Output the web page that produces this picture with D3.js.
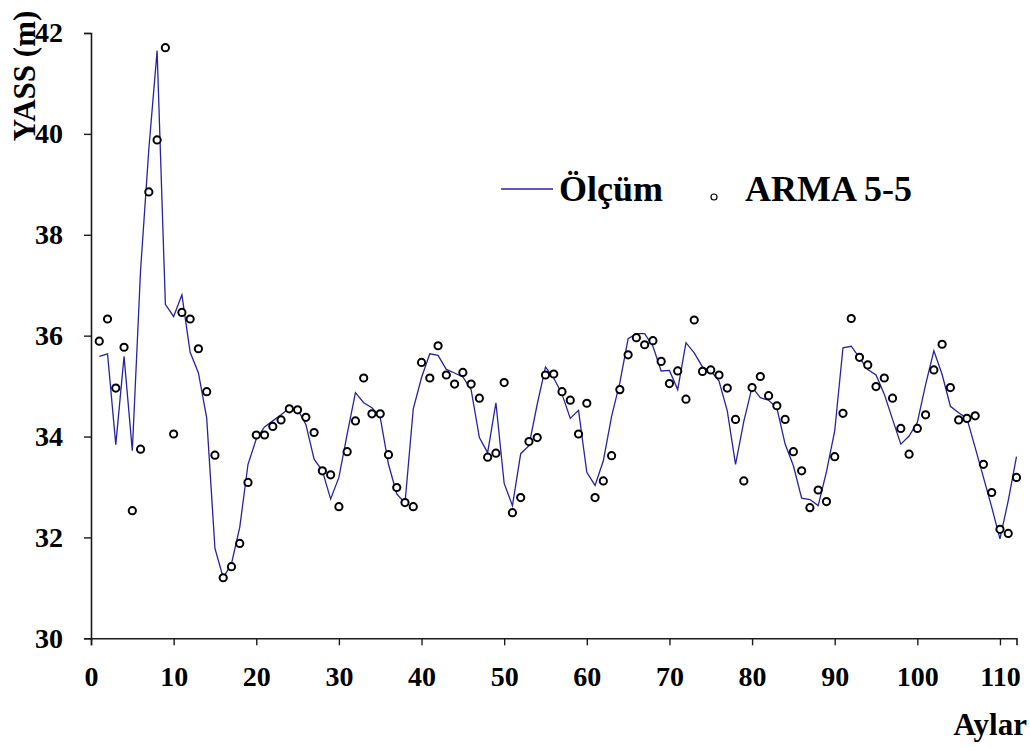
<!DOCTYPE html>
<html>
<head>
<meta charset="utf-8">
<script src="https://cdn.jsdelivr.net/npm/d3@7"></script>
<style>
  html, body { margin: 0; padding: 0; background: #fff; }
  svg { display: block; }
  text { font-family: "Liberation Serif", "Times New Roman", serif; font-weight: bold; fill: #000; }
</style>
</head>
<body>
<svg id="chart" width="1030" height="747"></svg>
<script>
// Monthly groundwater level (YASS, m): measured series and ARMA(5,5) model output
const months = d3.range(1, 113);

const olcum = [
  35.59, 35.64, 33.84, 35.59, 33.72, 37.30, 39.70, 41.65, 36.62, 36.38,
  36.81, 35.67, 35.26, 34.37, 31.78, 31.20, 31.48, 32.20, 33.45, 33.95,
  34.19, 34.31, 34.43, 34.56, 34.54, 34.24, 33.55, 33.32, 32.76, 33.19,
  34.05, 34.87, 34.67, 34.57, 34.38, 33.45, 32.86, 32.68, 34.55, 35.17,
  35.64, 35.61, 35.33, 35.26, 35.18, 34.93, 33.98, 33.68, 34.67, 33.07,
  32.63, 33.66, 33.82, 34.64, 35.38, 35.16, 34.84, 34.36, 34.52, 33.29,
  33.03, 33.52, 34.40, 35.07, 35.94, 36.04, 36.04, 35.79, 35.30, 35.31,
  34.93, 35.86, 35.66, 35.38, 35.30, 35.10, 34.51, 33.45, 34.30, 34.98,
  34.77, 34.72, 34.57, 33.85, 33.42, 32.78, 32.75, 32.63, 33.30, 34.11,
  35.76, 35.79, 35.56, 35.33, 35.22, 34.84, 34.34, 33.85, 34.01, 34.28,
  35.03, 35.70, 35.23, 34.60, 34.47, 34.36, 33.78, 33.19, 32.60, 31.97,
  32.73, 33.60
];

const arma55 = [
  35.89, 36.33, 34.96, 35.77, 32.53, 33.75, 38.85, 39.88, 41.71, 34.05,
  36.46, 36.33, 35.74, 34.89, 33.63, 31.20, 31.42, 31.88, 33.09, 34.03,
  34.03, 34.20, 34.33, 34.55, 34.53, 34.38, 34.08, 33.32, 33.24, 32.61,
  33.70, 34.31, 35.16, 34.45, 34.45, 33.64, 32.99, 32.69, 32.61, 35.47,
  35.16, 35.80, 35.22, 35.04, 35.27, 35.04, 34.76, 33.59, 33.67, 35.07,
  32.49, 32.79, 33.90, 33.98, 35.22, 35.24, 34.89, 34.72, 34.05, 34.66,
  32.79, 33.12, 33.62, 34.93, 35.62, 35.96, 35.82, 35.90, 35.49, 35.05,
  35.30, 34.74, 36.31, 35.29, 35.32, 35.22, 34.96, 34.34, 33.12, 34.97,
  35.19, 34.81, 34.61, 34.34, 33.70, 33.32, 32.59, 32.94, 32.71, 33.60,
  34.46, 36.34, 35.57, 35.42, 34.99, 35.16, 34.76, 34.16, 33.65, 34.16,
  34.43, 35.32, 35.83, 34.97, 34.33, 34.36, 34.41, 33.45, 32.89, 32.16,
  32.08, 33.19
];

const xTicks = [0, 10, 20, 30, 40, 50, 60, 70, 80, 90, 100, 110];
const yTicks = [30, 32, 34, 36, 38, 40, 42];
const seriesNames = ["Ölçüm", "ARMA 5-5"];
const xTitle = "Aylar";
const yTitle = "YASS (m)";

const svg = d3.select("#chart");

const x = d3.scaleLinear().domain([0, 112]).range([91, 1016.5]);
const y = d3.scaleLinear().domain([30, 42]).range([638.3, 33]);

const lineColor = "#2424a0";
const axisColor = "#1a1a1a";

function styleAxis(g) {
  g.select(".domain").attr("stroke", axisColor).attr("stroke-width", 1.6);
  g.selectAll(".tick line").attr("stroke", axisColor).attr("stroke-width", 1.4);
  g.selectAll(".tick text")
    .attr("font-family", "Liberation Serif, Times New Roman, serif")
    .attr("font-weight", "bold")
    .attr("font-size", 28)
    .attr("fill", "#000");
}

// x axis
svg.append("g")
  .attr("transform", `translate(0,${y(30)})`)
  .call(d3.axisBottom(x).tickValues(xTicks).tickSize(7).tickPadding(21).tickFormat(d3.format("d")))
  .call(styleAxis);

// y axis
svg.append("g")
  .attr("transform", `translate(${x(0)},0)`)
  .call(d3.axisLeft(y).tickValues(yTicks).tickSize(7).tickPadding(21).tickFormat(d3.format("d")))
  .call(styleAxis);

// measured series as a line
const lineGen = d3.line()
  .x((d, i) => x(months[i]))
  .y(d => y(d));

svg.append("path")
  .datum(olcum)
  .attr("fill", "none")
  .attr("stroke", lineColor)
  .attr("stroke-width", 1.3)
  .attr("d", lineGen);

// model output as open circles
svg.append("g")
  .selectAll("circle")
  .data(arma55)
  .join("circle")
  .attr("cx", (d, i) => x(months[i]))
  .attr("cy", d => y(d))
  .attr("r", 3.6)
  .attr("fill", "#fff")
  .attr("stroke", "#000")
  .attr("stroke-width", 2);

// axis titles
svg.append("text")
  .attr("x", 1027)
  .attr("y", 735)
  .attr("text-anchor", "end")
  .attr("font-size", 31)
  .text(xTitle);

svg.append("text")
  .attr("transform", "translate(35,76) rotate(-90)")
  .attr("text-anchor", "middle")
  .attr("font-size", 31)
  .text(yTitle);

// legend
const legend = svg.append("g");
legend.append("line")
  .attr("x1", 501).attr("x2", 553)
  .attr("y1", 189).attr("y2", 189)
  .attr("stroke", lineColor)
  .attr("stroke-width", 1.3);
legend.append("text")
  .attr("x", 559).attr("y", 201)
  .attr("font-size", 36)
  .text(seriesNames[0]);
legend.append("circle")
  .attr("cx", 714).attr("cy", 197)
  .attr("r", 3)
  .attr("fill", "#fff")
  .attr("stroke", "#000")
  .attr("stroke-width", 1.2);
legend.append("text")
  .attr("x", 745).attr("y", 201)
  .attr("font-size", 36)
  .text(seriesNames[1]);
</script>
</body>
</html>
